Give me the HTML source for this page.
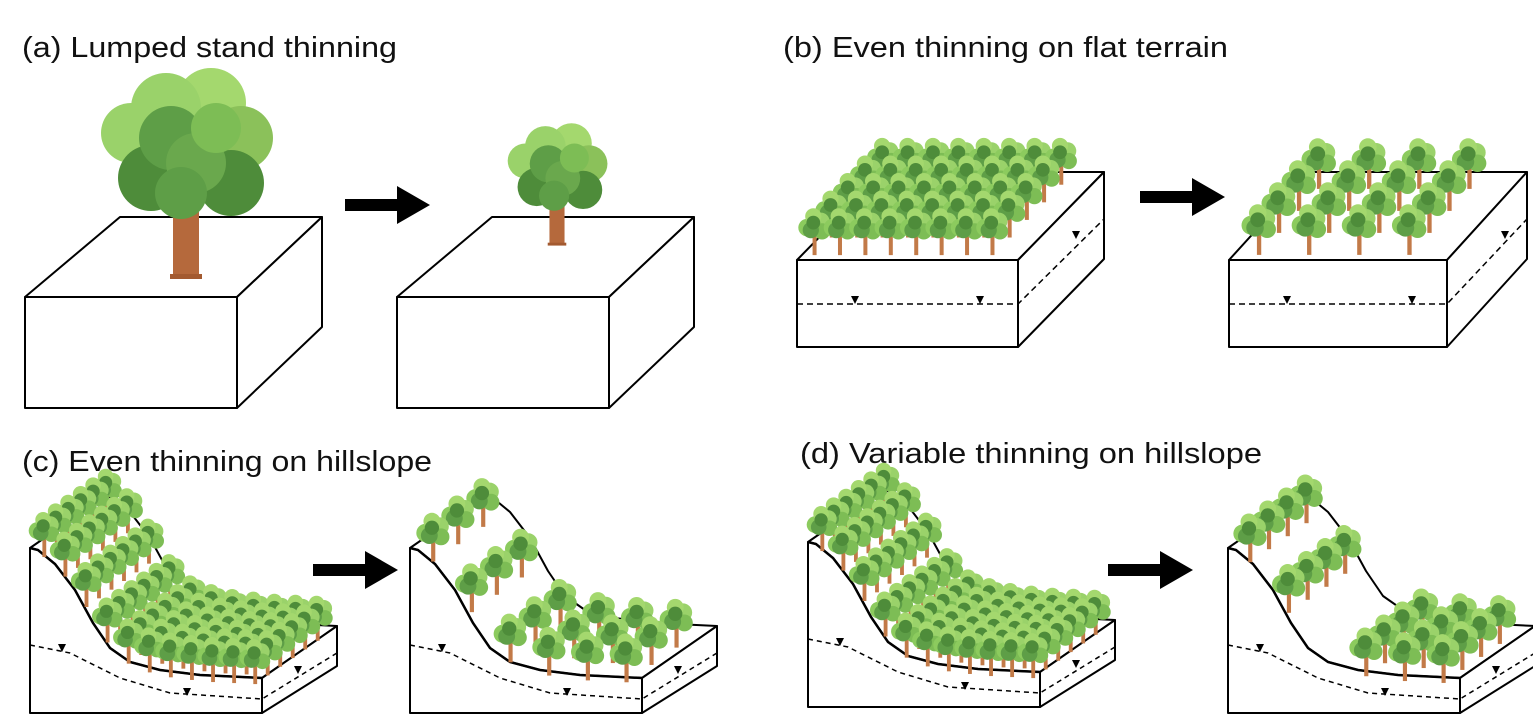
<!DOCTYPE html>
<html><head><meta charset="utf-8"><style>
html,body{margin:0;padding:0;background:#fff;width:1533px;height:716px;overflow:hidden}
svg{display:block}
text{font-family:"Liberation Sans",sans-serif;font-size:29px;fill:#111}
</style></head><body>
<svg id="fig" width="1533" height="716" viewBox="0 0 1533 716">
<defs>
<g id="tree">
<rect x="-1.6" y="-17" width="3.2" height="17" fill="#C27A48"/>
<circle cx="-6" cy="-22" r="7" fill="#8CCB5E"/>
<circle cx="5" cy="-27" r="7" fill="#9AD26A"/>
<circle cx="-1" cy="-31" r="6.5" fill="#A4D86E"/>
<circle cx="6" cy="-19" r="6.5" fill="#7DBD55"/>
<circle cx="-3" cy="-20" r="6.5" fill="#5E9E47"/>
<circle cx="-1" cy="-26" r="5.5" fill="#4E8C3A"/>
</g>
</defs>
<text x="22" y="57" textLength="375" lengthAdjust="spacingAndGlyphs">(a) Lumped stand thinning</text>
<text x="783" y="57" textLength="445" lengthAdjust="spacingAndGlyphs">(b) Even thinning on flat terrain</text>
<text x="22" y="471" textLength="410" lengthAdjust="spacingAndGlyphs">(c) Even thinning on hillslope</text>
<text x="800" y="463" textLength="462" lengthAdjust="spacingAndGlyphs">(d) Variable thinning on hillslope</text>
<g id="layer"></g>
</svg>
<script>
const NS="http://www.w3.org/2000/svg";
const layer=document.getElementById('layer');
// tree layout data
const flatCols=[8,4];
const flatRows=[5,4];
const hillRows=[6,3,6,4];
const hillCols=[11,6,11,6];
const hillRowKeep=[[1,1,1,1,1,1],[1,1,1],[1,1,1,1,1,1],[1,1,1,1]];

function el(tag,attrs,parent){const e=document.createElementNS(NS,tag);for(const k in attrs)e.setAttribute(k,attrs[k]);(parent||layer).appendChild(e);return e;}
function line(pts,extra,name){const e=el('polyline',Object.assign({points:pts.map(p=>p.join(',')).join(' '),fill:'none',stroke:'#000','stroke-width':2},extra||{}));


return e;}
function poly(pts,name){const e=el('polygon',{points:pts.map(p=>p.join(',')).join(' '),fill:'#fff',stroke:'#000','stroke-width':2,'stroke-linejoin':'round'});


return e;}
function tri(x,y,name){const e=el('polygon',{points:`${x-4},${y-7} ${x+4},${y-7} ${x},${y+1}`,fill:'#000'});

}
function arrow(x,y,name){const e=el('polygon',{points:`${x},${y-6} ${x+52},${y-6} ${x+52},${y-19} ${x+85},${y} ${x+52},${y+19} ${x+52},${y+6} ${x},${y+6}`,fill:'#000'});

}
function drawTrees(list,s,name){list.sort((a,b)=>a[1]-b[1]);for(const p of list){const u=el('use',{href:'#tree',transform:`translate(${p[0]},${p[1]}) scale(${s})`});

}}

function box(x,name){poly([[x,297],[x+95,217],[x+297,217],[x+212,297]],name+'-top');
poly([[x,297],[x+212,297],[x+212,408],[x,408]],name+'-front');
poly([[x+212,297],[x+297,217],[x+297,327],[x+212,408]],name+'-side');}
box(25,'box-a-before');box(397,'box-a-after');
arrow(345,205,'arrow-a');
function bigTree(cx,by,s,name){const g=el('g',{transform:`translate(${cx},${by}) scale(${s})`});


el('rect',{x:-13,y:-78,width:26,height:78,fill:'#B5693C'},g);
el('rect',{x:-16,y:-4,width:32,height:5,fill:'#A35A30'},g);
el('line',{x1:0,y1:-60,x2:40,y2:-100,stroke:'#B5693C','stroke-width':5},g);
const c=[[-55,-145,30,'#9AD26A'],[25,-175,35,'#A4D86E'],[-20,-170,35,'#9AD26A'],[55,-140,32,'#8BC15A'],[-35,-100,33,'#4E8C3A'],[45,-95,33,'#4E8C3A'],[-15,-140,32,'#5E9E47'],[10,-115,30,'#6AA84D'],[-5,-85,26,'#5E9E47'],[30,-150,25,'#7DBD55']];
for(const q of c)el('circle',{cx:q[0],cy:q[1],r:q[2],fill:q[3]},g);}
bigTree(186,278,1,'large-tree');
bigTree(557,245,0.58,'small-tree');

function flatBox(x,W,Dx,nc,nr,name){const FL=[x,260],D=[Dx,-88];
poly([FL,[x+W,260],[x+W+D[0],260+D[1]],[x+D[0],260+D[1]]],name+'-top');
poly([[x,260],[x+W,260],[x+W,347],[x,347]],name+'-front');
poly([[x+W,260],[x+W+D[0],172],[x+W+D[0],259],[x+W,347]],name+'-side');
line([[x,304],[x+W,304],[x+W+D[0],219]],{'stroke-dasharray':'6,4','stroke-width':1.5},name+'-water-table');
tri(x+58,303,name+'-wt-marker');tri(x+183,303,name+'-wt-marker');tri(x+W+58,238,name+'-wt-marker');
const list=[];for(let r=0;r<nr;r++)for(let c=0;c<nc;c++){const u=(c+0.5)/nc*0.92,v=(r+0.05)/nr;list.push([FL[0]+u*W+v*D[0]+4,FL[1]-4+v*D[1]]);}
drawTrees(list,nc>5?1.25:1.35,name+'-tree');}
flatBox(797,221,86,flatCols[0],flatRows[0],'flat-before');
flatBox(1229,218,80,flatCols[1],flatRows[1],'flat-after');
arrow(1140,197,'arrow-b');

const curve=[[0,0],[8,2],[25,16],[45,42],[63,75],[80,100],[100,114],[130,122],[170,127],[232,130]];
function curveAt(u){const x=u*232;for(let i=1;i<curve.length;i++){if(x<=curve[i][0]){const a=curve[i-1],b=curve[i],t=(x-a[0])/(b[0]-a[0]);return [x,a[1]+t*(b[1]-a[1])];}}return curve[curve.length-1];}
function hill(ox,oy,idx,name){const D=[75,-52],H=165;
const top=curve.map(p=>[ox+p[0],oy+p[1]]);
const back=curve.map(p=>[ox+p[0]+D[0],oy+p[1]+D[1]]);
poly(top.concat(back.slice().reverse()),name+'-surface');
poly([[ox,oy]].concat(top).concat([[ox+232,oy+H],[ox,oy+H]]),name+'-front');
poly([[ox+232,oy+130],[ox+232+D[0],oy+130+D[1]],[ox+232+D[0],oy+118],[ox+232,oy+H]],name+'-side');
line(top,{'stroke-width':2.5},name+'-slope-line');
line([[ox,oy+97],[ox+40,oy+105],[ox+90,oy+130],[ox+140,oy+145],[ox+232,oy+151],[ox+232+D[0],oy+105]],{'stroke-dasharray':'5,4','stroke-width':1.5},name+'-water-table');
tri(ox+32,oy+103,name+'-wt-marker');tri(ox+157,oy+147,name+'-wt-marker');tri(ox+268,oy+125,name+'-wt-marker');
const nr=hillRows[idx],nc=hillCols[idx],keep=hillRowKeep[idx],list=[];
for(let r=0;r<nr;r++){if(!keep[r])continue;for(let c=0;c<nc;c++){let u=(c+0.4)/nc;
if(idx===3&&u>0.25&&u<0.5)continue;
const v=(r+0.15)/nr;const p=curveAt(u);list.push([ox+p[0]+v*D[0]+4,oy+p[1]+v*D[1]+8]);}}
drawTrees(list,nr>4?1.2:1.3,name+'-tree');}
hill(30,548,0,'hill-c-before');
hill(410,548,1,'hill-c-after');
hill(808,542,2,'hill-d-before');
hill(1228,548,3,'hill-d-after');
arrow(313,570,'arrow-c');
arrow(1108,570,'arrow-d');
</script>
</body></html>
